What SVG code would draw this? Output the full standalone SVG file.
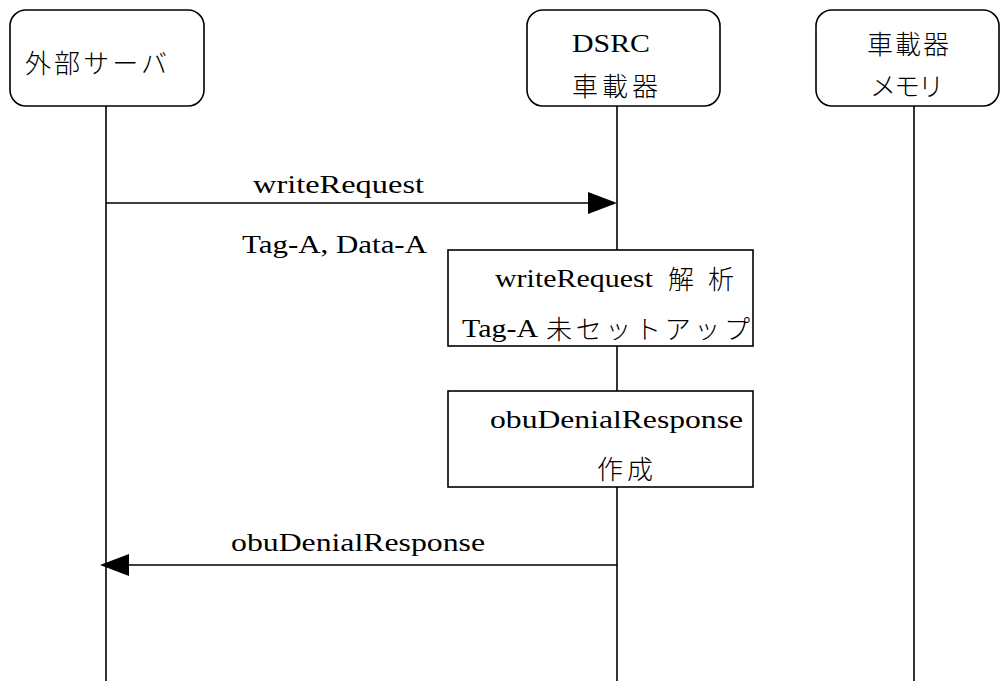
<svg xmlns="http://www.w3.org/2000/svg" width="1001" height="681" viewBox="0 0 1001 681">
<style>
.box{fill:#fff;stroke:#000;stroke-width:1.6}
.life{stroke:#000;stroke-width:1.6;fill:none}
.msg{stroke:#000;stroke-width:1.6;fill:none}
.head{fill:#000}
.lat{font-family:"Liberation Serif","Times New Roman",serif;font-size:26px;fill:#000}
.jp{font-family:"Noto Sans CJK JP","Noto Sans CJK SC",sans-serif;font-size:26px;font-weight:300;fill:#000}
</style>
<rect width="1001" height="681" fill="#fff"/>
<g id="lifelines">
<line class="life" x1="106" y1="106" x2="106" y2="681"/>
<line class="life" x1="617" y1="106" x2="617" y2="681"/>
<line class="life" x1="914" y1="106" x2="914" y2="681"/>
</g>
<g id="server">
<rect class="box" x="10" y="10" width="194" height="96" rx="16"/>
<text class="jp" x="25" y="73" textLength="142" lengthAdjust="spacing">外部サーバ</text>
</g>
<g id="dsrc">
<rect class="box" x="527" y="10" width="193" height="96" rx="16"/>
<text class="lat" x="572" y="52" textLength="78" lengthAdjust="spacingAndGlyphs" font-size="27">DSRC</text>
<text class="jp" x="572" y="96" textLength="86" lengthAdjust="spacing">車載器</text>
</g>
<g id="memory">
<rect class="box" x="816" y="10" width="183" height="96" rx="16"/>
<text class="jp" x="867" y="54" textLength="82" lengthAdjust="spacing">車載器</text>
<text class="jp" x="870" y="96" textLength="74" lengthAdjust="spacing">メモリ</text>
</g>
<g id="connectors">
<line class="msg" x1="106" y1="203" x2="592" y2="203"/>
<polygon class="head" points="588,192 617,203 588,214"/>
<line class="msg" x1="617" y1="565" x2="126" y2="565"/>
<polygon class="head" points="100,565 129,554 129,576"/>
</g>
<g id="msg1-label">
<text class="lat" x="253" y="193" textLength="171" lengthAdjust="spacingAndGlyphs">writeRequest</text>
<text class="lat" x="242" y="253" textLength="185" lengthAdjust="spacingAndGlyphs">Tag-A, Data-A</text>
</g>
<g id="analyze">
<rect class="box" x="448" y="250" width="305" height="96"/>
<text class="lat" x="495" y="287" textLength="158" lengthAdjust="spacingAndGlyphs">writeRequest</text>
<text class="jp" x="668" y="289" textLength="66" lengthAdjust="spacing">解析</text>
<text class="lat" x="462" y="337" textLength="76" lengthAdjust="spacingAndGlyphs">Tag-A</text>
<text class="jp" x="546" y="339" textLength="204" lengthAdjust="spacing">未セットアップ</text>
</g>
<g id="create">
<rect class="box" x="448" y="391" width="305" height="96"/>
<text class="lat" x="490" y="428" textLength="253" lengthAdjust="spacingAndGlyphs">obuDenialResponse</text>
<text class="jp" x="597" y="479" textLength="56" lengthAdjust="spacing">作成</text>
</g>
<g id="msg2-label">
<text class="lat" x="231" y="551" textLength="254" lengthAdjust="spacingAndGlyphs">obuDenialResponse</text>
</g>
</svg>
